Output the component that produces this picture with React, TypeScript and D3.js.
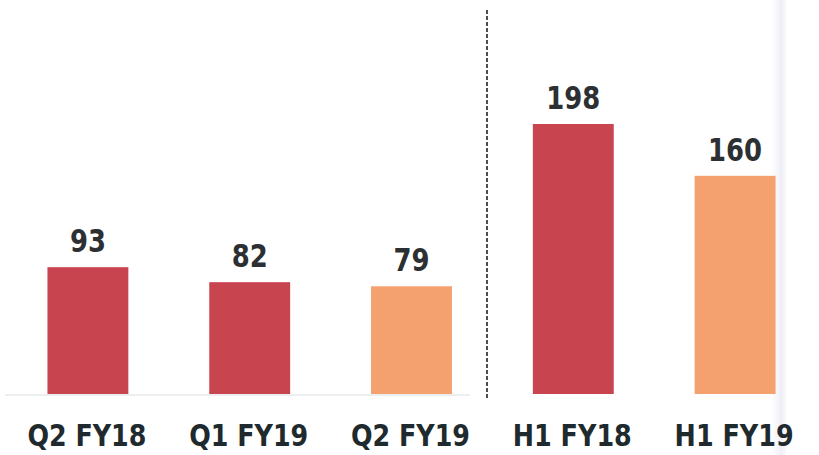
import React from "react";
import * as d3 from "d3";

const categories = ["Q2 FY18", "Q1 FY19", "Q2 FY19", "H1 FY18", "H1 FY19"];
const values = [93, 82, 79, 198, 160];
const colorKeys = ["prior", "prior", "current", "prior", "current"];

const W = 819;
const H = 455;

export default function App() {
  const x = d3.scaleBand<string>().domain(categories).range([7, 816]).paddingInner(0.5).paddingOuter(0.25);
  const y = d3.scaleLinear().domain([0, 198]).range([394, 124]);
  const color = d3.scaleOrdinal<string, string>().domain(["prior", "current"]).range(["#C8444F", "#F5A06F"]);
  const sepX = 487;
  return (
    <svg width={W} height={H} style={{ position: "absolute", left: 0, top: 0, background: "#fff" }}>
      <defs>
        <linearGradient id="edge" x1="0" x2="1" y1="0" y2="0">
          <stop offset="0" stopColor="#f6f6fb" stopOpacity={0} />
          <stop offset="0.7" stopColor="#eeeef7" stopOpacity={1} />
          <stop offset="1" stopColor="#f3f3f9" stopOpacity={0.6} />
        </linearGradient>
      </defs>
      <line x1={5} x2={470} y1={395} y2={395} stroke="#eceef0" strokeWidth={2} />
      <line x1={sepX} x2={sepX} y1={10} y2={398} stroke="#222" strokeWidth={1.6} strokeDasharray="4,2" />
      <rect x={770} y={0} width={16} height={H} fill="url(#edge)" />
      {categories.map((c, i) => (
        <g key={c}>
          <rect x={x(c)} y={y(values[i])} width={x.bandwidth()} height={y(0) - y(values[i])} fill={color(colorKeys[i])} />
          <text
            x={x(c)! + x.bandwidth() / 2}
            y={y(values[i]) - 15}
            textAnchor="middle"
            fontFamily="'DejaVu Sans', sans-serif"
            fontWeight="bold"
            fontSize={32}
            fill="#2d3033"
            textLength={String(values[i]).length * 18}
            lengthAdjust="spacingAndGlyphs"
          >
            {values[i]}
          </text>
          <text
            x={x(c)! + x.bandwidth() / 2 - 1}
            y={446}
            textAnchor="middle"
            fontFamily="'DejaVu Sans', sans-serif"
            fontWeight="bold"
            fontSize={31}
            fill="#1f2a2e"
            textLength={119}
            lengthAdjust="spacingAndGlyphs"
          >
            {c}
          </text>
        </g>
      ))}
    </svg>
  );
}
